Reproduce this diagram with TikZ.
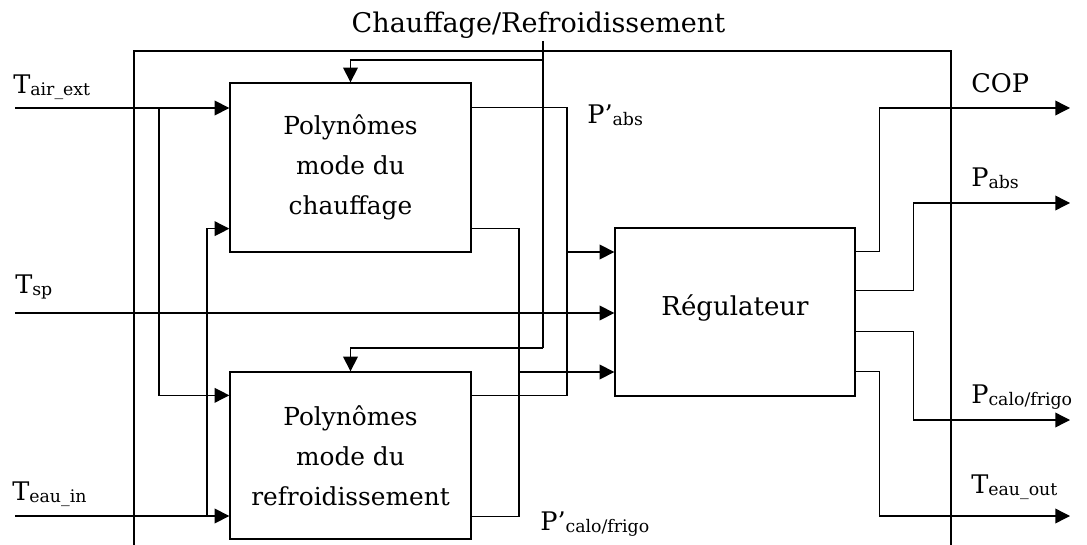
\documentclass[tikz,border=0pt]{standalone}
\usepackage{fontspec}
\setmainfont{DejaVu Serif}
\usetikzlibrary{arrows.meta,calc}

% 下标
\newcommand{\ind}[1]{\raisebox{-1.5pt}{\fontsize{13}{14}\selectfont #1}}

\begin{document}
\begin{tikzpicture}[x=0.75pt,y=-0.75pt,
  trait/.style={line width=1pt},
  fleche/.style={line width=1pt,-{Triangle[length=11pt,width=11pt]}},
  bloc/.style={draw,line width=1pt,align=center,inner sep=0pt,font=\fontsize{18.6}{30}\selectfont},
  etiq/.style={anchor=base west,inner sep=0pt,font=\fontsize{19.2}{24}\selectfont}]

\useasboundingbox (0,0) rectangle (1087,545);

% 外框
\draw[trait] (134,545) -- (134,51) -- (951,51) -- (951,545);

% 方块
\node[bloc,minimum width=180.75pt,minimum height=126.75pt] (chauf) at (350.5,167.5) {Polynômes\\mode du\\chauffage};
\node[bloc,minimum width=180.75pt,minimum height=125.25pt] (refr) at (350.5,455.5) {Polynômes\\mode du\\refroidissement};
\node[bloc,minimum width=180pt,minimum height=126pt,font=\fontsize{19.5}{24}\selectfont] (regul) at (735,312) {\raisebox{10.5pt}{Régulateur}};

% 文字
\node[anchor=base,inner sep=0pt,font=\fontsize{20.3}{22}\selectfont] (mode) at (538.5,33) {Chauffage/Refroidissement};
\node[etiq] (lair) at (13,94) {T\ind{air\_ext}};
\node[etiq] (lsp) at (15,293) {T\ind{sp}};
\node[etiq] (leau) at (12,500) {T\ind{eau\_in}};
\node[etiq] (lpabsp) at (587,124) {P’\ind{abs}};
\node[etiq] (lpcalop) at (540,530) {P’\ind{calo/frigo}};
\node[etiq] (lcop) at (971,93) {COP};
\node[etiq] (lpabs) at (971,187) {P\ind{abs}};
\node[etiq] (lpcalo) at (971,403) {P\ind{calo/frigo}};
\node[etiq] (lteau) at (971,493) {T\ind{eau\_out}};

% 输入
\coordinate (tair) at (15,108);
\coordinate (tsp) at (15,313);
\coordinate (teau) at (15,516);
\coordinate (jair) at (159,108);
\coordinate (jeau) at (207,516);
\draw[fleche] (tair) -- (tair -| chauf.west);
\draw[fleche] (jair) |- ($(refr.north west)+(0,24)$);
\draw[fleche] (tsp) -- (tsp -| regul.west);
\draw[fleche] (teau) -- (teau -| refr.west);
\draw[fleche] (jeau) |- ($(chauf.south west)+(0,-24)$);

% 模式切换
\coordinate (cmode) at (543,41);
\coordinate (jmode) at (543,60);
\coordinate (kmode) at (543,348);
\draw[line width=2pt] (cmode) -- (kmode);
\draw[fleche] (jmode) -| (chauf.north);
\draw[fleche] (kmode) -| (refr.north);

% 方块输出
\coordinate (cabs) at (567,252);
\coordinate (ccalo) at (519,372);
\draw[trait] ($(chauf.north east)+(0,25)$) -| (cabs);
\draw[trait] ($(refr.north east)+(0,24)$) -| (cabs);
\draw[fleche] (cabs) -- (cabs -| regul.west);
\draw[trait] ($(chauf.south east)+(0,-24)$) -| (ccalo);
\draw[trait] ($(refr.south east)+(0,-23)$) -| (ccalo);
\draw[fleche] (ccalo) -- (ccalo -| regul.west);

% 调节器输出
\coordinate (scop) at (1070,108);
\coordinate (spabs) at (1070,203);
\coordinate (spcalo) at (1070,420);
\coordinate (steau) at (1070,516);
\draw[fleche] ($(regul.north east)+(0,24)$) -- ++(24,0) |- (scop);
\draw[fleche] ($(regul.north east)+(0,63)$) -- ++(58,0) |- (spabs);
\draw[fleche] ($(regul.north east)+(0,104)$) -- ++(58,0) |- (spcalo);
\draw[fleche] ($(regul.north east)+(0,144)$) -- ++(24,0) |- (steau);

\end{tikzpicture}
\end{document}
